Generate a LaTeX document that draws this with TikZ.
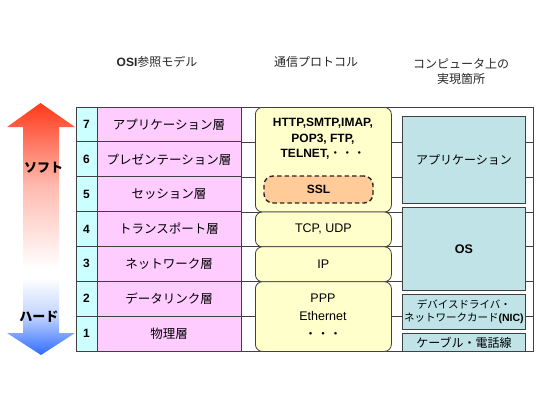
\documentclass[tikz,border=0pt]{standalone}
\usepackage{fontspec}
\setmainfont{Liberation Sans}
\newfontfamily\jp{Noto Sans CJK JP}
\definecolor{numc}{HTML}{CCFFFF}
\definecolor{pinkc}{HTML}{FFCCFF}
\definecolor{yelc}{HTML}{FFFFCC}
\definecolor{sslc}{HTML}{FFCC99}
\definecolor{tealc}{HTML}{BFE3E6}
\definecolor{upred}{HTML}{FF3A1A}
\definecolor{downblue}{HTML}{2D6BFF}
\definecolor{linec}{HTML}{404040}
\begin{document}
\begin{tikzpicture}[x=1pt,y=-1pt,
  numcell/.style={draw=linec,line width=0.8pt,fill=numc,minimum width=21pt,minimum height=34.857pt,inner sep=0pt,font=\fontsize{12}{14}\selectfont\bfseries},
  laycell/.style={draw=linec,line width=0.8pt,fill=pinkc,minimum width=144pt,minimum height=34.857pt,inner sep=0pt,font=\fontsize{12.5}{14}\selectfont\jp},
  protbox/.style={draw=linec,line width=0.8pt,fill=yelc,rounded corners=7pt,minimum width=136pt,inner sep=0pt,anchor=north west,font=\fontsize{12.5}{15}\selectfont,align=center},
  impbox/.style={draw=linec,line width=0.8pt,fill=tealc,minimum width=123pt,inner sep=0pt,anchor=north west,align=center},
  headtxt/.style={font=\fontsize{12}{15}\selectfont\jp,align=center,text=black!85},
  arrtxt/.style={font=\fontsize{13}{15}\selectfont\jp\bfseries}
]
\useasboundingbox (0,0) rectangle (550,400);

% arrows
\shade[top color=upred, bottom color=white, middle color=upred!35]
  (7,127) -- (40.5,103) -- (75,127) -- (59,127) -- (59,268) -- (23,268) -- (23,127) -- cycle;
\shade[top color=white, bottom color=downblue, middle color=downblue!30]
  (23,278) -- (59,278) -- (59,333) -- (75,333) -- (41,355) -- (7,333) -- (23,333) -- cycle;
\node[arrtxt] (soft) at (43.5,168) {ソフト};
\node[arrtxt] (hard) at (39,317) {ハード};

% headers
\node[headtxt] (h1) at (157,62) {\textbf{\rmfamily OSI}参照モデル};
\node[headtxt] (h2) at (316,62) {通信プロトコル};
\node[headtxt] (h3) at (461,72) {コンピュータ上の\\実現箇所};

% white column
\node[draw=linec,line width=0.8pt,fill=white,minimum width=292pt,minimum height=244pt,inner sep=0pt,anchor=north west] (wcol) at (241,107) {};

% layer rows
\foreach \i/\lab in {7/アプリケーション層,6/プレゼンテーション層,5/セッション層,4/トランスポート層,3/ネットワーク層,2/データリンク層,1/物理層}{
  \pgfmathsetmacro\yc{107+(7.5-\i)*34.857}
  \node[numcell] (n\i) at (86.5,\yc) {\i};
  \node[laycell] (l\i) at (169,\yc) {\lab};
}
\foreach \i in {7,6,5,4,3,2}{
  \draw[linec,line width=0.8pt] (l\i.south east) -- (wcol.east |- l\i.south east);
}

% protocol boxes
\node[protbox,minimum height=104.6pt] (papp) at (255,107) {};
\node[font=\fontsize{12}{15.5}\selectfont\bfseries,align=center] (papptxt) at (323,139)
  {HTTP,SMTP,IMAP,\\POP3, FTP,\\TELNET,{\jp\mdseries ・・・}};
\node[draw=black!85,line width=1.4pt,dash pattern=on 4.5pt off 3pt,fill=sslc,rounded corners=9pt,minimum width=109pt,minimum height=27pt,inner sep=0pt,font=\fontsize{12}{14}\selectfont\bfseries] (ssl) at (318.5,189.5) {SSL};
\node[protbox,minimum height=34.86pt] (ptcp) at (255,211.6) {TCP, UDP};
\node[protbox,minimum height=34.86pt] (pip) at (255,246.4) {IP};
\node[protbox,minimum height=69.7pt] (pppp) at (255,281.3) {};
\node[font=\fontsize{12.5}{18}\selectfont,align=center] (pppptxt) at (323,316)
  {PPP\\Ethernet\\{\jp ・・・}};

% implementation boxes
\node[impbox,minimum height=87pt,font=\fontsize{12}{14}\selectfont\jp] (iapp) at (402,116) {アプリケーション};
\node[impbox,minimum height=83pt,font=\fontsize{12.5}{14}\selectfont\bfseries] (ios) at (402,207) {OS};
\node[impbox,minimum height=35pt,font=\fontsize{10.5}{13}\selectfont\jp] (idrv) at (402,294) {デバイスドライバ・\\ネットワークカード\textbf{\rmfamily (NIC)}};
\node[impbox,minimum height=18pt,font=\fontsize{12}{14}\selectfont\jp] (icab) at (402,333) {ケーブル・電話線};

\end{tikzpicture}
\end{document}
